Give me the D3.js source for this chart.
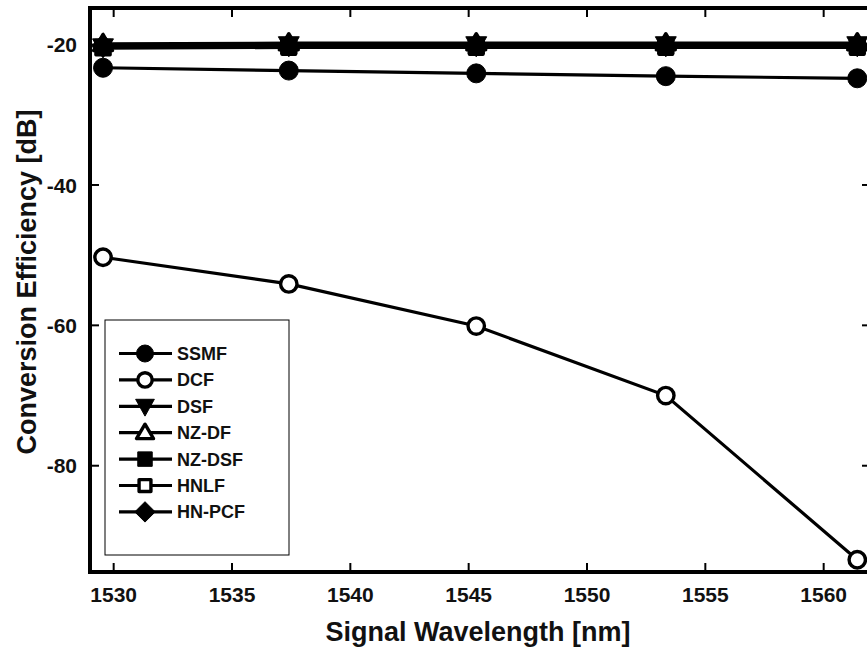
<!DOCTYPE html>
<html>
<head>
<meta charset="utf-8">
<script src="https://cdn.jsdelivr.net/npm/d3@7"></script>
<style>
  html, body { margin: 0; padding: 0; background: #fff; }
  svg { display: block; font-family: "Liberation Sans", Arial, sans-serif; }
</style>
</head>
<body>
<svg id="chart" width="867" height="652"></svg>
<script>
// ---- data ----
const wavelengths = [1529.55, 1537.40, 1545.32, 1553.33, 1561.42];
const seriesNames = ["SSMF", "DCF", "DSF", "NZ-DF", "NZ-DSF", "HNLF", "HN-PCF"];
const ssmf  = [-23.3, -23.7, -24.1, -24.5, -24.8];
const dcf   = [-50.3, -54.1, -60.1, -70.0, -93.4];
const dsf   = [-20.3, -20.0, -20.0, -20.0, -20.0];
const nzdf  = [-19.9, -19.8, -19.8, -19.8, -19.8];
const nzdsf = [-20.4, -20.2, -20.2, -20.2, -20.2];
const hnlf  = [-20.5, -20.4, -20.4, -20.4, -20.4];
const hnpcf = [-20.2, -20.1, -20.1, -20.1, -20.1];
const xTicks = [1530, 1535, 1540, 1545, 1550, 1555, 1560];
const yTicks = [-20, -40, -60, -80];
const markerTypes = ["circle", "circleOpen", "triDown", "triUpOpen", "square", "squareOpen", "diamond"];

const seriesValues = [ssmf, dcf, dsf, nzdf, nzdsf, hnlf, hnpcf];
const series = seriesNames.map((n, i) => ({ name: n, values: seriesValues[i], marker: markerTypes[i] }));

// ---- layout ----
const svg = d3.select("#chart");
const L = 90, R = 871, T = 8, B = 572;
const x = d3.scaleLinear().domain([1529, 1562]).range([L, R]);
const y = d3.scaleLinear().domain([-95, -15]).range([571, 9.5]);

const tickFont = 21, titleFont = 27, legendFont = 18;

// ticks (inward)
const gx = svg.append("g");
xTicks.forEach(t => {
  gx.append("line").attr("x1", x(t)).attr("x2", x(t)).attr("y1", B).attr("y2", B - 9)
    .attr("stroke", "#000").attr("stroke-width", 2);
  gx.append("line").attr("x1", x(t)).attr("x2", x(t)).attr("y1", T).attr("y2", T + 9)
    .attr("stroke", "#000").attr("stroke-width", 2);
  gx.append("text").attr("x", x(t)).attr("y", 602).attr("text-anchor", "middle")
    .attr("font-size", tickFont).attr("font-weight", "bold").attr("fill", "#111").text(t);
});
yTicks.forEach(t => {
  gx.append("line").attr("x1", L).attr("x2", L + 9).attr("y1", y(t)).attr("y2", y(t))
    .attr("stroke", "#000").attr("stroke-width", 2);
  gx.append("line").attr("x1", R).attr("x2", R - 9).attr("y1", y(t)).attr("y2", y(t))
    .attr("stroke", "#000").attr("stroke-width", 2);
  gx.append("text").attr("x", 77).attr("y", y(t)).attr("dy", "0.36em").attr("text-anchor", "end")
    .attr("font-size", tickFont).attr("font-weight", "bold").attr("fill", "#111").text(t);
});

// frame
svg.append("rect").attr("x", L).attr("y", T).attr("width", R - L).attr("height", B - T)
  .attr("fill", "none").attr("stroke", "#000").attr("stroke-width", 4);

// titles
svg.append("text").attr("x", 478).attr("y", 641).attr("text-anchor", "middle")
  .attr("font-size", titleFont).attr("font-weight", "bold").attr("fill", "#111")
  .text("Signal Wavelength [nm]");
svg.append("text").attr("transform", "translate(36,282) rotate(-90)").attr("text-anchor", "middle")
  .attr("font-size", titleFont).attr("font-weight", "bold").attr("fill", "#111")
  .text("Conversion Efficiency [dB]");

// marker drawing
function drawMarker(g, type, cx, cy, s) {
  const open = type.endsWith("Open");
  const fill = open ? "#fff" : "#000";
  let el;
  if (type.startsWith("circle")) {
    el = g.append("circle").attr("cx", cx).attr("cy", cy).attr("r", open ? s - 1.3 : s);
  } else if (type.startsWith("square")) {
    const h = open ? s * 0.85 - 1.3 : s * 0.85;
    el = g.append("rect").attr("x", cx - h).attr("y", cy - h)
      .attr("width", h * 2).attr("height", h * 2);
  } else if (type === "triDown") {
    const h = s * 1.1;
    el = g.append("path").attr("d", `M${cx - h},${cy - h * 0.75}L${cx + h},${cy - h * 0.75}L${cx},${cy + h * 1.05}Z`);
  } else if (type.startsWith("triUp")) {
    const h = s * 1.0;
    el = g.append("path").attr("d", `M${cx - h},${cy + h * 0.7}L${cx + h},${cy + h * 0.7}L${cx},${cy - h * 1.0}Z`);
  } else if (type === "diamond") {
    const h = s * 1.2;
    el = g.append("path").attr("d", `M${cx},${cy - h}L${cx + h},${cy}L${cx},${cy + h}L${cx - h},${cy}Z`);
  }
  el.attr("fill", fill).attr("stroke", "#000").attr("stroke-width", open ? 3.4 : 1)
    .attr("stroke-linejoin", "round");
}

const plot = svg.append("g");
const line = d3.line().x((d, i) => x(wavelengths[i])).y(d => y(d));

series.forEach(s => {
  plot.append("path").datum(s.values).attr("d", line)
    .attr("fill", "none").attr("stroke", "#000").attr("stroke-width", 3.2);
});
// open markers first, filled markers on top
const ordered = series.filter(s => s.marker.endsWith("Open")).concat(series.filter(s => !s.marker.endsWith("Open")));
ordered.forEach(s => {
  const g = plot.append("g");
  s.values.forEach((v, i) => drawMarker(g, s.marker, x(wavelengths[i]), y(v), 9.5));
});

// legend
const lg = svg.append("g");
lg.append("rect").attr("x", 105).attr("y", 320).attr("width", 184).attr("height", 235)
  .attr("fill", "#fff").attr("stroke", "#000").attr("stroke-width", 1);
series.forEach((s, i) => {
  const yy = 353.5 + i * 26.4;
  lg.append("line").attr("x1", 119).attr("x2", 172).attr("y1", yy).attr("y2", yy)
    .attr("stroke", "#000").attr("stroke-width", 3.2);
  drawMarker(lg, s.marker, 145, yy, 8.5);
  lg.append("text").attr("x", 177).attr("y", yy).attr("dy", "0.36em")
    .attr("font-size", legendFont).attr("font-weight", "bold").attr("fill", "#111").text(s.name);
});
</script>
</body>
</html>
